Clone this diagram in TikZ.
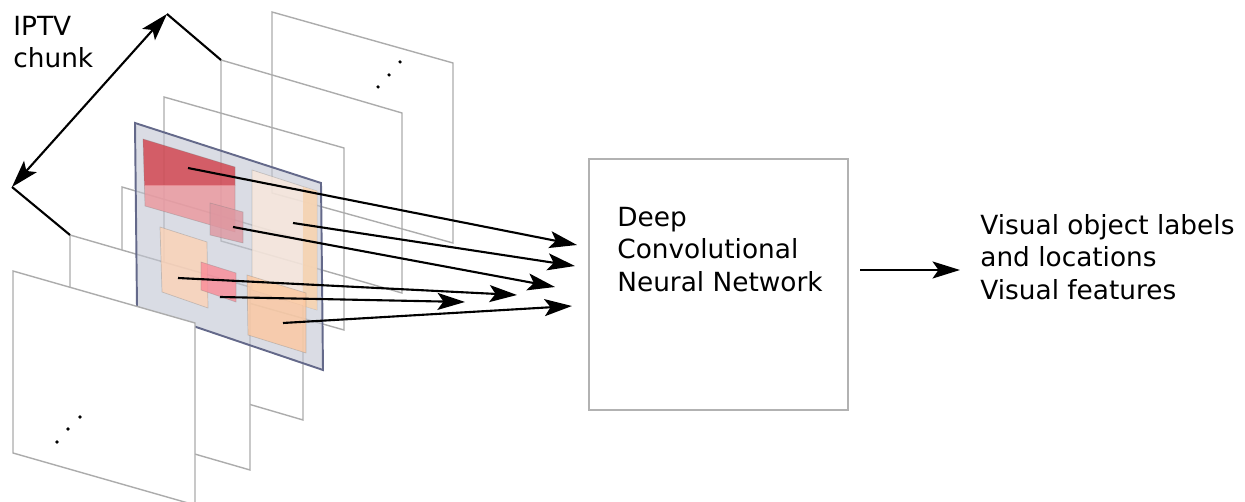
\documentclass[tikz,border=0pt]{standalone}
\usepackage{fontspec}
\setmainfont{DejaVu Sans}
\usetikzlibrary{arrows.meta}
\definecolor{slidefill}{RGB}{193,197,210}
\definecolor{slideedge}{RGB}{100,105,138}
\definecolor{objred}{RGB}{210,62,72}
\definecolor{objpink}{RGB}{236,150,156}
\definecolor{objrose}{RGB}{222,150,160}
\definecolor{objsalmon}{RGB}{250,138,150}
\definecolor{objpeach}{RGB}{252,210,182}
\definecolor{objbeige}{RGB}{250,232,220}
\definecolor{objtan}{RGB}{245,208,172}
\definecolor{objorange}{RGB}{253,200,160}

\begin{document}
\begin{tikzpicture}[x=0.02cm,y=-0.02cm,
    frameline/.style={draw=gray!65,line width=0.8pt},
    region/.style={fill opacity=0.8,draw=gray,draw opacity=0.35,line width=0.4pt},
    arr/.style={line width=1.2pt,-{Stealth[length=0.55cm,width=0.34cm,inset=0.12cm]}},
    txt/.style={inner sep=0pt,align=left,font=\fontsize{15pt}{18.4pt}\selectfont}]
  \useasboundingbox (0,0) rectangle (1245,502);

  % frames of the chunk, back to front
  \draw[frameline] (272,12) -- (453,63) -- (453,243) -- (272,193) -- cycle;
  \draw[frameline] (221,60) -- (402,113) -- (402,293) -- (221,241) -- cycle;
  \draw[frameline] (164,97) -- (344,148) -- (344,330) -- (164,279) -- cycle;
  \draw[frameline] (122,187) -- (303,240) -- (303,420) -- (122,367) -- cycle;
  \filldraw[frameline,fill=white] (70,235) -- (250,287) -- (250,470) -- (70,418) -- cycle;
  \fill[black] (400,62) circle (1pt);
  \fill[black] (389,75) circle (1pt);
  \fill[black] (378,87) circle (1pt);

  % the analysed frame
  \filldraw[fill=slidefill,fill opacity=0.6,draw=slideedge,line width=1.1pt]
    (135,123) -- (321,183) -- (323,370) -- (137,307) -- cycle;
  \begin{scope}
    \clip (0,0) rectangle (1245,186);
    \fill[objred,fill opacity=0.8] (143,139) -- (235,167) -- (235,232) -- (145,206) -- cycle;
  \end{scope}
  \begin{scope}
    \clip (0,186) rectangle (1245,502);
    \fill[objpink,fill opacity=0.8] (143,139) -- (235,167) -- (235,232) -- (145,206) -- cycle;
  \end{scope}
  \draw[gray,draw opacity=0.35,line width=0.4pt] (143,139) -- (235,167) -- (235,232) -- (145,206) -- cycle;
  \filldraw[region,fill=objrose] (210,203) -- (243,212) -- (243,243) -- (210,235) -- cycle;
  \filldraw[region,fill=objbeige] (252,170) -- (317,191) -- (317,310) -- (252,290) -- cycle;
  \fill[objtan,fill opacity=0.8] (303,187) -- (317,191) -- (317,310) -- (303,306) -- cycle;
  \filldraw[region,fill=objpeach] (160,227) -- (207,242) -- (208,308) -- (162,292) -- cycle;
  \filldraw[region,fill=objsalmon] (201,262) -- (236,273) -- (236,302) -- (201,290) -- cycle;
  \filldraw[region,fill=objorange] (247,275) -- (306,293) -- (306,353) -- (248,335) -- cycle;

  % front frame
  \filldraw[frameline,fill=white] (13,271) -- (195,323) -- (195,505) -- (13,453) -- cycle;
  \fill[black] (80,417) circle (1pt);
  \fill[black] (68,429) circle (1pt);
  \fill[black] (57,442) circle (1pt);

  \node[txt,anchor=north west] (chunk) at (13,16) {IPTV\\chunk};
  \coordinate (chunktop) at (167,14);
  \coordinate (chunkbottom) at (12,187);
  \coordinate (frameB) at (221,60);
  \coordinate (frameF) at (70,235);
  \draw[line width=1.2pt,{Stealth[length=0.55cm,width=0.34cm,inset=0.12cm]}-{Stealth[length=0.55cm,width=0.34cm,inset=0.12cm]}]
    (chunkbottom) -- (chunktop);
  \draw[line width=1.2pt] (chunktop) -- (frameB);
  \draw[line width=1.2pt] (chunkbottom) -- (frameF);

  \node[draw=gray!60,line width=1.1pt,minimum width=5.18cm,minimum height=5.02cm,inner sep=0pt]
    (dcnn) at (718.5,284.5) {};
  \node[txt,anchor=north west] (dcnnlabel) at (617,207) {Deep\\Convolutional\\Neural Network};
  \node[txt,anchor=north west] (outlabel) at (980,214) {Visual object labels\\and locations\\Visual features};

  \coordinate (obj1) at (188,168);
  \coordinate (obj2) at (293,223);
  \coordinate (obj3) at (233,227);
  \coordinate (obj4) at (178,278);
  \coordinate (obj5) at (220,297);
  \coordinate (obj6) at (283,323);
  \coordinate (in1) at (577,245);
  \coordinate (in2) at (575,266);
  \coordinate (in3) at (555,287);
  \coordinate (in4) at (517,295);
  \coordinate (in5) at (465,302);
  \coordinate (in6) at (572,306);
  \draw[arr] (obj1) -- (in1);
  \draw[arr] (obj2) -- (in2);
  \draw[arr] (obj3) -- (in3);
  \draw[arr] (obj4) -- (in4);
  \draw[arr] (obj5) -- (in5);
  \draw[arr] (obj6) -- (in6);

  \coordinate (outstart) at (860,270);
  \coordinate (outend) at (960,270);
  \draw[arr] (outstart) -- (outend);
\end{tikzpicture}
\end{document}
